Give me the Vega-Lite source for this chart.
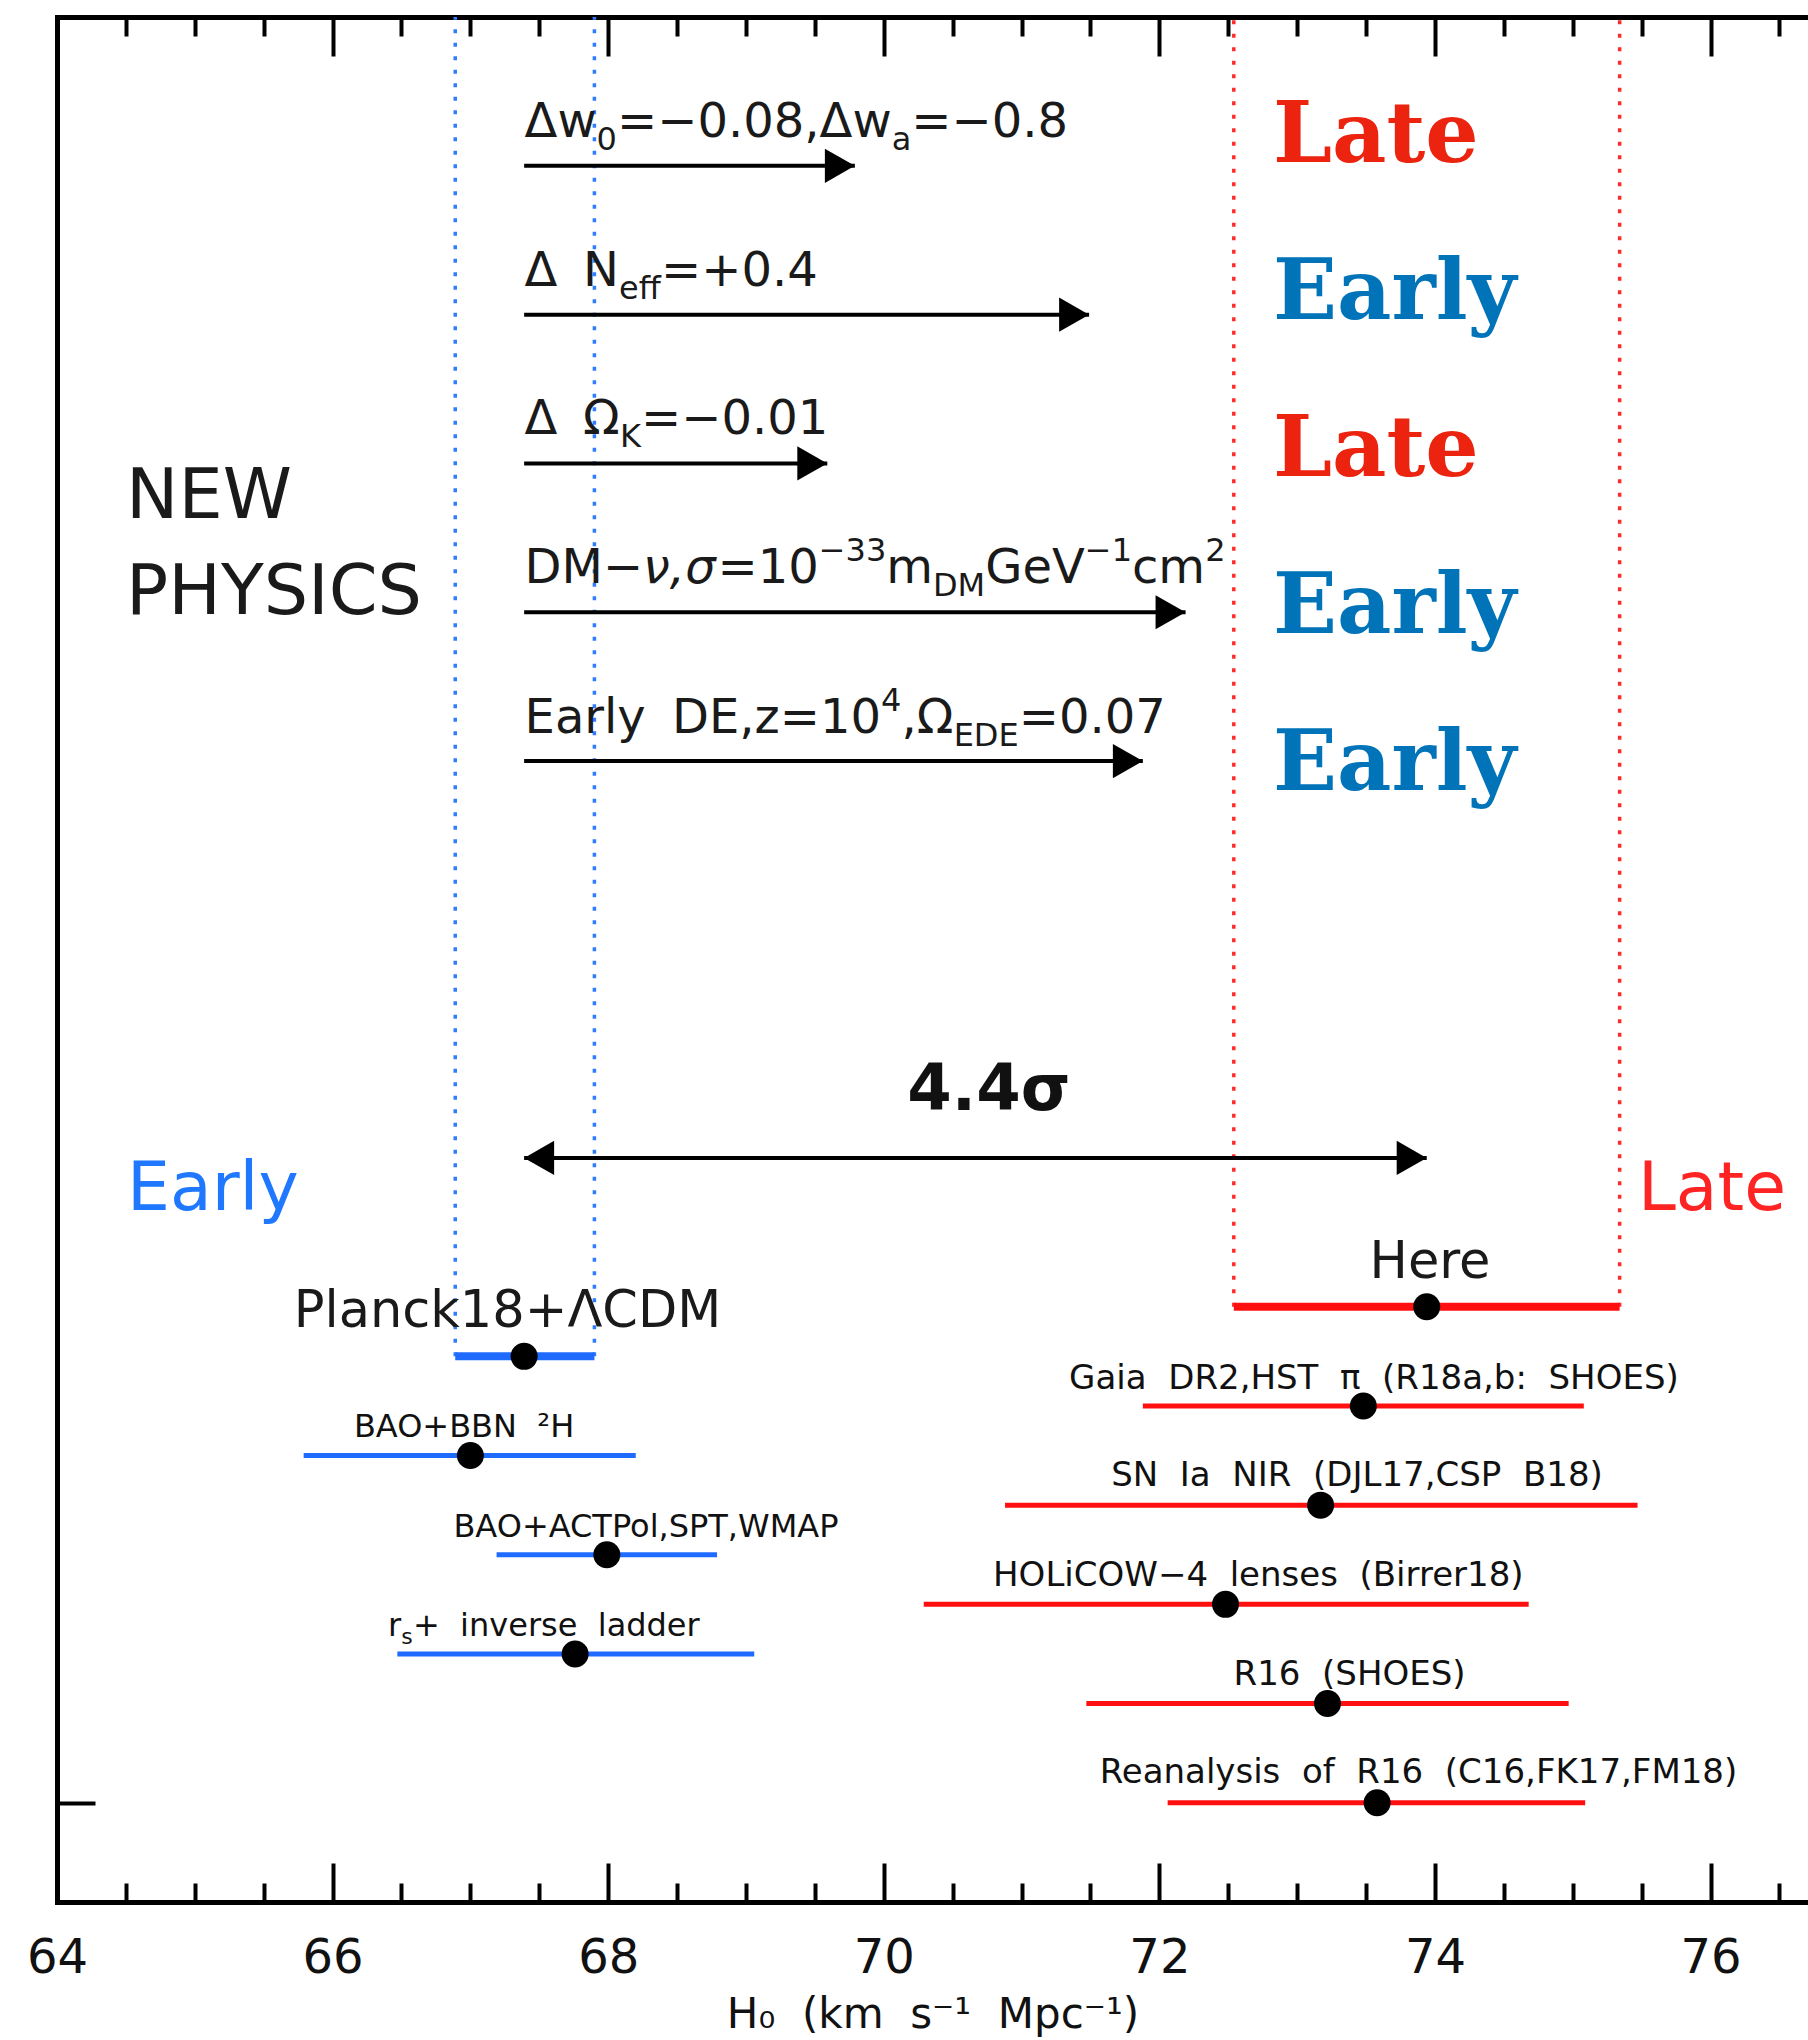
{
  "$schema": "https://vega.github.io/schema/vega-lite/v6.json",
  "width": 1751,
  "height": 1885,
  "autosize": {"type": "none"},
  "padding": {"left": 57, "top": 17, "right": 0, "bottom": 138},
  "background": "#ffffff",
  "config": {
    "view": {"stroke": null},
    "axis": {"grid": false, "domainColor": "#000000", "tickColor": "#000000", "domainWidth": 5, "tickWidth": 4, "labelFont": "DejaVu Sans", "titleFont": "DejaVu Sans"},
    "text": {"font": "DejaVu Sans"}
  },
  "resolve": {"scale": {"color": "independent"}, "axis": {"x": "independent", "y": "independent"}},
  "datasets": {
    "h0": [
      {"name": "Here", "g": "late", "heavy": true, "k": 10, "val": 73.94, "lo": 72.54, "hi": 75.34},
      {"name": "Planck18+ΛCDM", "g": "early", "heavy": true, "k": 9, "val": 67.39, "lo": 66.89, "hi": 67.90},
      {"name": "Gaia DR2, HST parallax (R18a,b: SHOES)", "g": "late", "heavy": false, "k": 8, "val": 73.48, "lo": 71.88, "hi": 75.08},
      {"name": "BAO+BBN 2H", "g": "early", "heavy": false, "k": 7, "val": 67.00, "lo": 65.79, "hi": 68.20},
      {"name": "SN Ia NIR (DJL17, CSP B18)", "g": "late", "heavy": false, "k": 6, "val": 73.17, "lo": 70.88, "hi": 75.47},
      {"name": "BAO+ACTPol,SPT,WMAP", "g": "early", "heavy": false, "k": 5, "val": 67.99, "lo": 67.19, "hi": 68.79},
      {"name": "HOLiCOW-4 lenses (Birrer18)", "g": "late", "heavy": false, "k": 4, "val": 72.48, "lo": 70.29, "hi": 74.68},
      {"name": "rs + inverse ladder", "g": "early", "heavy": false, "k": 3, "val": 67.76, "lo": 66.47, "hi": 69.06},
      {"name": "R16 (SHOES)", "g": "late", "heavy": false, "k": 2, "val": 73.22, "lo": 71.47, "hi": 74.97},
      {"name": "Reanalysis of R16 (C16,FK17,FM18)", "g": "late", "heavy": false, "k": 0, "val": 73.58, "lo": 72.06, "hi": 75.09}
    ],
    "shifts": [
      {"k": 33, "from": 67.39, "to": 69.79, "both": false},
      {"k": 30, "from": 67.39, "to": 71.49, "both": false},
      {"k": 27, "from": 67.39, "to": 69.59, "both": false},
      {"k": 24, "from": 67.39, "to": 72.19, "both": false},
      {"k": 21, "from": 67.39, "to": 71.88, "both": false},
      {"k": 13, "from": 67.39, "to": 73.94, "both": true}
    ],
    "notes": [
      {"kind": "m", "t": "Δw", "x": 67.393, "y": 33.58},
      {"kind": "s", "t": "0", "x": 67.916, "y": 33.58},
      {"kind": "m", "t": "=−0.08,Δw", "x": 68.064, "y": 33.58},
      {"kind": "s", "t": "a", "x": 70.057, "y": 33.58},
      {"kind": "m", "t": "=−0.8", "x": 70.200, "y": 33.58},

      {"kind": "m", "t": "Δ", "x": 67.393, "y": 30.57},
      {"kind": "m", "t": "N", "x": 67.817, "y": 30.57},
      {"kind": "s", "t": "eff", "x": 68.078, "y": 30.57},
      {"kind": "m", "t": "=+0.4", "x": 68.384, "y": 30.57},

      {"kind": "m", "t": "Δ", "x": 67.393, "y": 27.59},
      {"kind": "m", "t": "Ω", "x": 67.817, "y": 27.59},
      {"kind": "s", "t": "K", "x": 68.086, "y": 27.59},
      {"kind": "m", "t": "=−0.01", "x": 68.238, "y": 27.59},

      {"kind": "m", "t": "DM−", "x": 67.393, "y": 24.59},
      {"kind": "i", "t": "ν,σ", "x": 68.253, "y": 24.59},
      {"kind": "m", "t": "=10", "x": 68.793, "y": 24.59},
      {"kind": "p", "t": "−33", "x": 69.528, "y": 24.59},
      {"kind": "m", "t": "m", "x": 70.017, "y": 24.59},
      {"kind": "s", "t": "DM", "x": 70.357, "y": 24.59},
      {"kind": "m", "t": "GeV", "x": 70.737, "y": 24.59},
      {"kind": "p", "t": "−1", "x": 71.459, "y": 24.59},
      {"kind": "m", "t": "cm", "x": 71.801, "y": 24.59},
      {"kind": "p", "t": "2", "x": 72.332, "y": 24.59},

      {"kind": "m", "t": "Early", "x": 67.393, "y": 21.57},
      {"kind": "m", "t": "DE,z=10", "x": 68.463, "y": 21.57},
      {"kind": "p", "t": "4", "x": 69.980, "y": 21.57},
      {"kind": "m", "t": ",Ω", "x": 70.128, "y": 21.57},
      {"kind": "s", "t": "EDE", "x": 70.507, "y": 21.57},
      {"kind": "m", "t": "=0.07", "x": 70.979, "y": 21.57},

      {"kind": "h", "t": "NEW", "x": 64.501, "y": 25.90},
      {"kind": "h", "t": "PHYSICS", "x": 64.501, "y": 23.97},

      {"kind": "v", "g": "late", "t": "Late", "x": 72.824, "y": 33.08},
      {"kind": "v", "g": "early", "t": "Early", "x": 72.824, "y": 29.91},
      {"kind": "v", "g": "late", "t": "Late", "x": 72.824, "y": 26.75},
      {"kind": "v", "g": "early", "t": "Early", "x": 72.824, "y": 23.58},
      {"kind": "v", "g": "early", "t": "Early", "x": 72.824, "y": 20.42},

      {"kind": "sig", "t": "4.4σ", "x": 70.763, "y": 13.97},
      {"kind": "era", "g": "early", "t": "Early", "x": 64.508, "y": 11.95},
      {"kind": "era", "g": "late", "t": "Late", "x": 75.473, "y": 11.95},

      {"kind": "cb", "t": "Here", "x": 73.964, "y": 10.58},
      {"kind": "cb", "t": "Planck18+ΛCDM", "x": 67.269, "y": 9.59},

      {"kind": "cr", "t": "Gaia\u00a0 DR2,HST\u00a0 π\u00a0 (R18a,b:\u00a0 SHOES)", "x": 73.557, "y": 8.34},
      {"kind": "cl", "t": "BAO+BBN\u00a0 ²H", "x": 66.954, "y": 7.37},
      {"kind": "cr", "t": "SN\u00a0 Ia\u00a0 NIR\u00a0 (DJL17,CSP\u00a0 B18)", "x": 73.434, "y": 6.38},
      {"kind": "cl", "t": "BAO+ACTPol,SPT,WMAP", "x": 68.274, "y": 5.35},
      {"kind": "cr", "t": "HOLiCOW−4\u00a0 lenses\u00a0 (Birrer18)", "x": 72.718, "y": 4.37},
      {"kind": "lm", "t": "r", "x": 66.402, "y": 3.37},
      {"kind": "ls", "t": "s", "x": 66.498, "y": 3.37},
      {"kind": "lm", "t": "+\u00a0 inverse\u00a0 ladder", "x": 66.583, "y": 3.37},
      {"kind": "cr", "t": "R16\u00a0 (SHOES)", "x": 73.380, "y": 2.38},
      {"kind": "cr", "t": "Reanalysis\u00a0 of\u00a0 R16\u00a0 (C16,FK17,FM18)", "x": 73.880, "y": 0.40}
    ]
  },
  "layer": [
    {
      "data": {"name": "h0"},
      "transform": [{"filter": "datum.heavy"}],
      "mark": {"type": "rule", "strokeWidth": 3.5, "strokeDash": [4, 9.5]},
      "encoding": {
        "x": {"field": "lo", "type": "quantitative", "scale": {"domain": [64, 76.707], "nice": false, "zero": false},
              "axis": {"orient": "top", "values": [64.5, 65, 65.5, 66.5, 67, 67.5, 68.5, 69, 69.5, 70.5, 71, 71.5, 72.5, 73, 73.5, 74.5, 75, 75.5, 76.5], "tickSize": -19, "labels": false, "domain": false, "title": null}},
        "y": {"field": "k", "type": "quantitative", "scale": {"domain": [-2, 36], "nice": false, "zero": false}, "axis": null},
        "y2": {"datum": 36},
        "color": {"field": "g", "type": "nominal", "scale": {"domain": ["early", "late"], "range": ["#2F7DFF", "#FF2B2B"]}, "legend": null}
      }
    },
    {
      "data": {"name": "h0"},
      "transform": [{"filter": "datum.heavy"}],
      "mark": {"type": "rule", "strokeWidth": 3.5, "strokeDash": [4, 9.5]},
      "encoding": {
        "x": {"field": "hi", "type": "quantitative", "scale": {"domain": [64, 76.707], "nice": false, "zero": false}, "axis": null},
        "y": {"field": "k", "type": "quantitative", "scale": {"domain": [-2, 36], "nice": false, "zero": false}, "axis": null},
        "y2": {"datum": 36},
        "color": {"field": "g", "type": "nominal", "scale": {"domain": ["early", "late"], "range": ["#2F7DFF", "#FF2B2B"]}, "legend": null}
      }
    },
    {
      "data": {"name": "h0"},
      "transform": [{"filter": "!datum.heavy"}],
      "mark": {"type": "rule", "strokeWidth": 5},
      "encoding": {
        "x": {"field": "lo", "type": "quantitative", "scale": {"domain": [64, 76.707], "nice": false, "zero": false},
              "axis": {"orient": "bottom", "values": [64, 66, 68, 70, 72, 74, 76], "format": "d", "tickSize": -39, "labelPadding": 71, "labelFontSize": 48, "labelColor": "#111111", "labelFlush": false, "labelOverlap": false, "domainCap": "square",
                       "title": "H₀\u00a0 (km\u00a0 s⁻¹\u00a0 Mpc⁻¹)", "titleFontSize": 42, "titleFontWeight": "normal", "titleColor": "#111111", "titlePadding": 12}},
        "x2": {"field": "hi"},
        "y": {"field": "k", "type": "quantitative", "scale": {"domain": [-2, 36], "nice": false, "zero": false},
              "axis": {"orient": "left", "values": [0], "tickSize": -38, "labels": false, "title": null, "domainCap": "square"}},
        "color": {"field": "g", "type": "nominal", "scale": {"domain": ["early", "late"], "range": ["#1F6BFF", "#FF1010"]}, "legend": null}
      }
    },
    {
      "data": {"name": "h0"},
      "transform": [{"filter": "datum.heavy"}],
      "mark": {"type": "rule", "strokeWidth": 8},
      "encoding": {
        "x": {"field": "lo", "type": "quantitative", "scale": {"domain": [64, 76.707], "nice": false, "zero": false},
              "axis": {"orient": "bottom", "values": [64.5, 65, 65.5, 66.5, 67, 67.5, 68.5, 69, 69.5, 70.5, 71, 71.5, 72.5, 73, 73.5, 74.5, 75, 75.5, 76.5], "tickSize": -19, "labels": false, "domain": false, "title": null}},
        "x2": {"field": "hi"},
        "y": {"field": "k", "type": "quantitative", "scale": {"domain": [-2, 36], "nice": false, "zero": false}, "axis": null},
        "color": {"field": "g", "type": "nominal", "scale": {"domain": ["early", "late"], "range": ["#1F6BFF", "#FF1010"]}, "legend": null}
      }
    },
    {
      "data": {"name": "h0"},
      "mark": {"type": "point", "shape": "circle", "filled": true, "size": 729, "color": "#000000", "opacity": 1},
      "encoding": {
        "x": {"field": "val", "type": "quantitative", "scale": {"domain": [64, 76.707], "nice": false, "zero": false},
              "axis": {"orient": "top", "values": [64, 66, 68, 70, 72, 74, 76], "tickSize": -39, "labels": false, "title": null, "domainCap": "square"}},
        "y": {"field": "k", "type": "quantitative", "scale": {"domain": [-2, 36], "nice": false, "zero": false}, "axis": null}
      }
    },
    {
      "data": {"name": "shifts"},
      "mark": {"type": "rule", "strokeWidth": 4, "color": "#000000"},
      "encoding": {
        "x": {"field": "from", "type": "quantitative", "scale": {"domain": [64, 76.707], "nice": false, "zero": false}, "axis": null},
        "x2": {"field": "to"},
        "y": {"field": "k", "type": "quantitative", "scale": {"domain": [-2, 36], "nice": false, "zero": false}, "axis": null}
      }
    },
    {
      "data": {"name": "shifts"},
      "mark": {"type": "point", "shape": "M0,0L-1,-0.57L-1,0.57Z", "size": 3600, "filled": true, "color": "#000000", "opacity": 1, "strokeWidth": 0},
      "encoding": {
        "x": {"field": "to", "type": "quantitative", "scale": {"domain": [64, 76.707], "nice": false, "zero": false}, "axis": null},
        "y": {"field": "k", "type": "quantitative", "scale": {"domain": [-2, 36], "nice": false, "zero": false}, "axis": null}
      }
    },
    {
      "data": {"name": "shifts"},
      "transform": [{"filter": "datum.both"}],
      "mark": {"type": "point", "shape": "M0,0L1,-0.57L1,0.57Z", "size": 3600, "filled": true, "color": "#000000", "opacity": 1, "strokeWidth": 0},
      "encoding": {
        "x": {"field": "from", "type": "quantitative", "scale": {"domain": [64, 76.707], "nice": false, "zero": false}, "axis": null},
        "y": {"field": "k", "type": "quantitative", "scale": {"domain": [-2, 36], "nice": false, "zero": false}, "axis": null}
      }
    },
    {
      "data": {"name": "notes"},
      "transform": [{"filter": "datum.kind === 'm'"}],
      "mark": {"type": "text", "font": "DejaVu Sans", "fontSize": 48, "align": "left", "baseline": "alphabetic", "color": "#1a1a1a"},
      "encoding": {
        "x": {"field": "x", "type": "quantitative", "scale": {"domain": [64, 76.707], "nice": false, "zero": false}, "axis": null},
        "y": {"field": "y", "type": "quantitative", "scale": {"domain": [-2, 36], "nice": false, "zero": false}, "axis": null},
        "text": {"field": "t"}
      }
    },
    {
      "data": {"name": "notes"},
      "transform": [{"filter": "datum.kind === 'i'"}],
      "mark": {"type": "text", "font": "DejaVu Sans", "fontSize": 48, "fontStyle": "italic", "align": "left", "baseline": "alphabetic", "color": "#1a1a1a"},
      "encoding": {
        "x": {"field": "x", "type": "quantitative", "scale": {"domain": [64, 76.707], "nice": false, "zero": false}, "axis": null},
        "y": {"field": "y", "type": "quantitative", "scale": {"domain": [-2, 36], "nice": false, "zero": false}, "axis": null},
        "text": {"field": "t"}
      }
    },
    {
      "data": {"name": "notes"},
      "transform": [{"filter": "datum.kind === 's'"}],
      "mark": {"type": "text", "font": "DejaVu Sans", "fontSize": 32, "dy": 13, "align": "left", "baseline": "alphabetic", "color": "#1a1a1a"},
      "encoding": {
        "x": {"field": "x", "type": "quantitative", "scale": {"domain": [64, 76.707], "nice": false, "zero": false}, "axis": null},
        "y": {"field": "y", "type": "quantitative", "scale": {"domain": [-2, 36], "nice": false, "zero": false}, "axis": null},
        "text": {"field": "t"}
      }
    },
    {
      "data": {"name": "notes"},
      "transform": [{"filter": "datum.kind === 'p'"}],
      "mark": {"type": "text", "font": "DejaVu Sans", "fontSize": 32, "dy": -22, "align": "left", "baseline": "alphabetic", "color": "#1a1a1a"},
      "encoding": {
        "x": {"field": "x", "type": "quantitative", "scale": {"domain": [64, 76.707], "nice": false, "zero": false}, "axis": null},
        "y": {"field": "y", "type": "quantitative", "scale": {"domain": [-2, 36], "nice": false, "zero": false}, "axis": null},
        "text": {"field": "t"}
      }
    },
    {
      "data": {"name": "notes"},
      "transform": [{"filter": "datum.kind === 'h'"}],
      "mark": {"type": "text", "font": "DejaVu Sans", "fontSize": 70, "align": "left", "baseline": "alphabetic", "color": "#1a1a1a"},
      "encoding": {
        "x": {"field": "x", "type": "quantitative", "scale": {"domain": [64, 76.707], "nice": false, "zero": false}, "axis": null},
        "y": {"field": "y", "type": "quantitative", "scale": {"domain": [-2, 36], "nice": false, "zero": false}, "axis": null},
        "text": {"field": "t"}
      }
    },
    {
      "data": {"name": "notes"},
      "transform": [{"filter": "datum.kind === 'v'"}],
      "mark": {"type": "text", "font": "DejaVu Serif", "fontSize": 84, "fontWeight": "bold", "align": "left", "baseline": "alphabetic"},
      "encoding": {
        "x": {"field": "x", "type": "quantitative", "scale": {"domain": [64, 76.707], "nice": false, "zero": false}, "axis": null},
        "y": {"field": "y", "type": "quantitative", "scale": {"domain": [-2, 36], "nice": false, "zero": false}, "axis": null},
        "text": {"field": "t"},
        "color": {"field": "g", "type": "nominal", "scale": {"domain": ["early", "late"], "range": ["#0073B9", "#EB230F"]}, "legend": null}
      }
    },
    {
      "data": {"name": "notes"},
      "transform": [{"filter": "datum.kind === 'era'"}],
      "mark": {"type": "text", "font": "DejaVu Sans", "fontSize": 68, "align": "left", "baseline": "alphabetic"},
      "encoding": {
        "x": {"field": "x", "type": "quantitative", "scale": {"domain": [64, 76.707], "nice": false, "zero": false}, "axis": null},
        "y": {"field": "y", "type": "quantitative", "scale": {"domain": [-2, 36], "nice": false, "zero": false}, "axis": null},
        "text": {"field": "t"},
        "color": {"field": "g", "type": "nominal", "scale": {"domain": ["early", "late"], "range": ["#1F78FF", "#FF2424"]}, "legend": null}
      }
    },
    {
      "data": {"name": "notes"},
      "transform": [{"filter": "datum.kind === 'sig'"}],
      "mark": {"type": "text", "font": "DejaVu Sans", "fontSize": 64, "fontWeight": "bold", "align": "center", "baseline": "alphabetic", "color": "#111111"},
      "encoding": {
        "x": {"field": "x", "type": "quantitative", "scale": {"domain": [64, 76.707], "nice": false, "zero": false}, "axis": null},
        "y": {"field": "y", "type": "quantitative", "scale": {"domain": [-2, 36], "nice": false, "zero": false}, "axis": null},
        "text": {"field": "t"}
      }
    },
    {
      "data": {"name": "notes"},
      "transform": [{"filter": "datum.kind === 'cb'"}],
      "mark": {"type": "text", "font": "DejaVu Sans", "fontSize": 51, "align": "center", "baseline": "alphabetic", "color": "#1a1a1a"},
      "encoding": {
        "x": {"field": "x", "type": "quantitative", "scale": {"domain": [64, 76.707], "nice": false, "zero": false}, "axis": null},
        "y": {"field": "y", "type": "quantitative", "scale": {"domain": [-2, 36], "nice": false, "zero": false}, "axis": null},
        "text": {"field": "t"}
      }
    },
    {
      "data": {"name": "notes"},
      "transform": [{"filter": "datum.kind === 'cr'"}],
      "mark": {"type": "text", "font": "DejaVu Sans", "fontSize": 34, "align": "center", "baseline": "alphabetic", "color": "#111111"},
      "encoding": {
        "x": {"field": "x", "type": "quantitative", "scale": {"domain": [64, 76.707], "nice": false, "zero": false}, "axis": null},
        "y": {"field": "y", "type": "quantitative", "scale": {"domain": [-2, 36], "nice": false, "zero": false}, "axis": null},
        "text": {"field": "t"}
      }
    },
    {
      "data": {"name": "notes"},
      "transform": [{"filter": "datum.kind === 'cl'"}],
      "mark": {"type": "text", "font": "DejaVu Sans", "fontSize": 32, "align": "center", "baseline": "alphabetic", "color": "#111111"},
      "encoding": {
        "x": {"field": "x", "type": "quantitative", "scale": {"domain": [64, 76.707], "nice": false, "zero": false}, "axis": null},
        "y": {"field": "y", "type": "quantitative", "scale": {"domain": [-2, 36], "nice": false, "zero": false}, "axis": null},
        "text": {"field": "t"}
      }
    },
    {
      "data": {"name": "notes"},
      "transform": [{"filter": "datum.kind === 'lm'"}],
      "mark": {"type": "text", "font": "DejaVu Sans", "fontSize": 32, "align": "left", "baseline": "alphabetic", "color": "#111111"},
      "encoding": {
        "x": {"field": "x", "type": "quantitative", "scale": {"domain": [64, 76.707], "nice": false, "zero": false}, "axis": null},
        "y": {"field": "y", "type": "quantitative", "scale": {"domain": [-2, 36], "nice": false, "zero": false}, "axis": null},
        "text": {"field": "t"}
      }
    },
    {
      "data": {"name": "notes"},
      "transform": [{"filter": "datum.kind === 'ls'"}],
      "mark": {"type": "text", "font": "DejaVu Sans", "fontSize": 22, "dy": 8, "align": "left", "baseline": "alphabetic", "color": "#111111"},
      "encoding": {
        "x": {"field": "x", "type": "quantitative", "scale": {"domain": [64, 76.707], "nice": false, "zero": false}, "axis": null},
        "y": {"field": "y", "type": "quantitative", "scale": {"domain": [-2, 36], "nice": false, "zero": false}, "axis": null},
        "text": {"field": "t"}
      }
    }
  ]
}
